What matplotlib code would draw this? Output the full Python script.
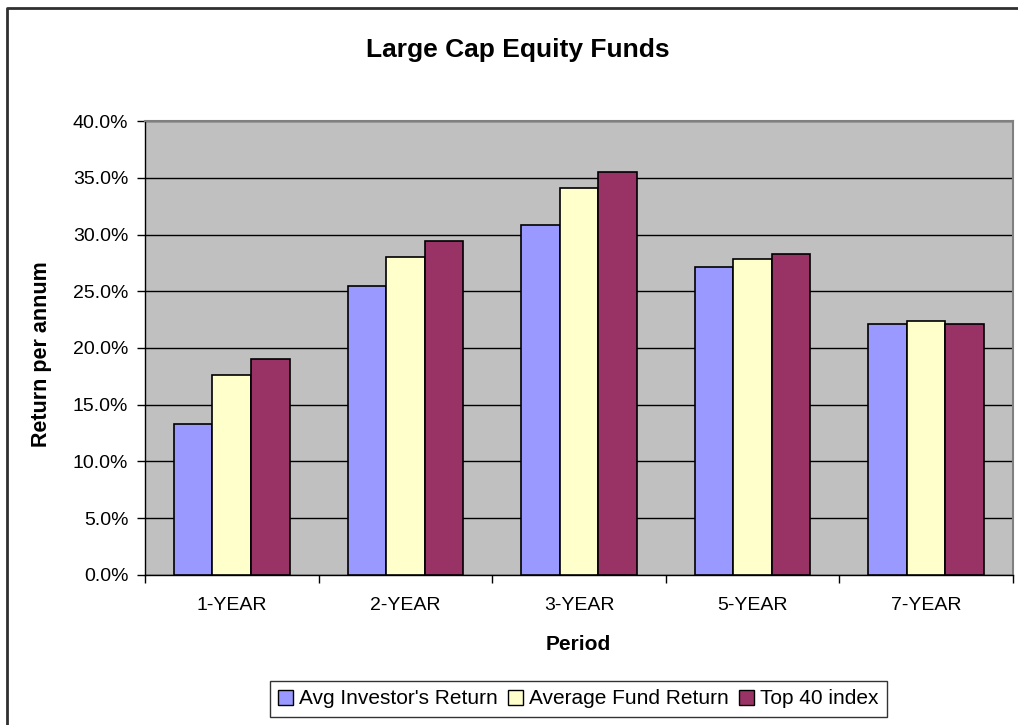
import matplotlib.pyplot as plt
import numpy as np
from matplotlib.lines import Line2D
from matplotlib.ticker import FuncFormatter, FixedLocator

plt.rcParams['font.family'] = ['Liberation Sans', 'DejaVu Sans']

periods = ['1-YEAR', '2-YEAR', '3-YEAR', '5-YEAR', '7-YEAR']
series_names = ["Avg Investor's Return", 'Average Fund Return', 'Top 40 index']
avg_investor = [13.3, 25.5, 30.8, 27.1, 22.1]
avg_fund = [17.6, 28.0, 34.1, 27.8, 22.4]
top40 = [19.0, 29.4, 35.5, 28.3, 22.1]
colors = ['#9999FF', '#FFFFCC', '#993366']

fig = plt.figure(figsize=(10.18, 7.25), dpi=100)
ax = fig.add_axes([0.1424, 0.2069, 0.8527, 0.6262])
ax.set_facecolor('#C0C0C0')

x = np.arange(len(periods))
bar_width = 2 / 9
for i, vals in enumerate([avg_investor, avg_fund, top40]):
    ax.bar(x + (i - 1) * bar_width, vals, width=bar_width, color=colors[i],
           edgecolor='black', linewidth=1.2, label=series_names[i], zorder=3)

ax.set_xlim(-0.5, len(periods) - 0.5)
ax.set_ylim(0, 40)
ax.set_yticks(np.arange(0, 41, 5))
ax.yaxis.set_major_formatter(FuncFormatter(lambda v, p: '%.1f%%' % v))
ax.yaxis.grid(True, color='black', linewidth=1, zorder=1)

# category boundaries get the tick marks, centres get the labels
ax.xaxis.set_major_locator(FixedLocator(np.arange(-0.5, len(periods), 1)))
ax.xaxis.set_minor_locator(FixedLocator(x))
ax.set_xticklabels([''] * (len(periods) + 1))
ax.set_xticklabels(periods, minor=True)
ax.tick_params(axis='x', which='major', length=6, width=1, direction='out')
ax.tick_params(axis='x', which='minor', length=0, pad=16, labelsize=14)
ax.tick_params(axis='y', length=6, width=1, direction='out', pad=6, labelsize=14)

for side in ['top', 'right']:
    ax.spines[side].set_color('#808080')
    ax.spines[side].set_linewidth(1.5)
for side in ['left', 'bottom']:
    ax.spines[side].set_color('black')
    ax.spines[side].set_linewidth(1)

fig.text(0.509, 1 - 50 / 725, 'Large Cap Equity Funds', ha='center', va='center',
         fontsize=19, fontweight='bold')
fig.text(0.568, 1 - 644 / 725, 'Period', ha='center', va='center',
         fontsize=15, fontweight='bold')
fig.text(42 / 1018, 1 - 354 / 725, 'Return per annum', ha='center', va='center',
         rotation=90, fontsize=15.5, fontweight='bold')

leg = fig.legend(loc='center', bbox_to_anchor=(0.568, 1 - 699 / 725), ncol=3,
                 fontsize=15, frameon=True, fancybox=False, edgecolor='black',
                 handlelength=0.7, handleheight=0.7, handletextpad=0.3,
                 columnspacing=0.5, borderpad=0.4)
leg.get_frame().set_linewidth(1)
for h in leg.legend_handles:
    h.set_linewidth(1)

# outer chart border (only the left and top edges are inside the picture)
fig.add_artist(Line2D([7 / 1018, 7 / 1018, 1], [0, 1 - 8 / 725, 1 - 8 / 725],
                      color='#303030', linewidth=2, transform=fig.transFigure))

fig.savefig('out.png', dpi=100)
